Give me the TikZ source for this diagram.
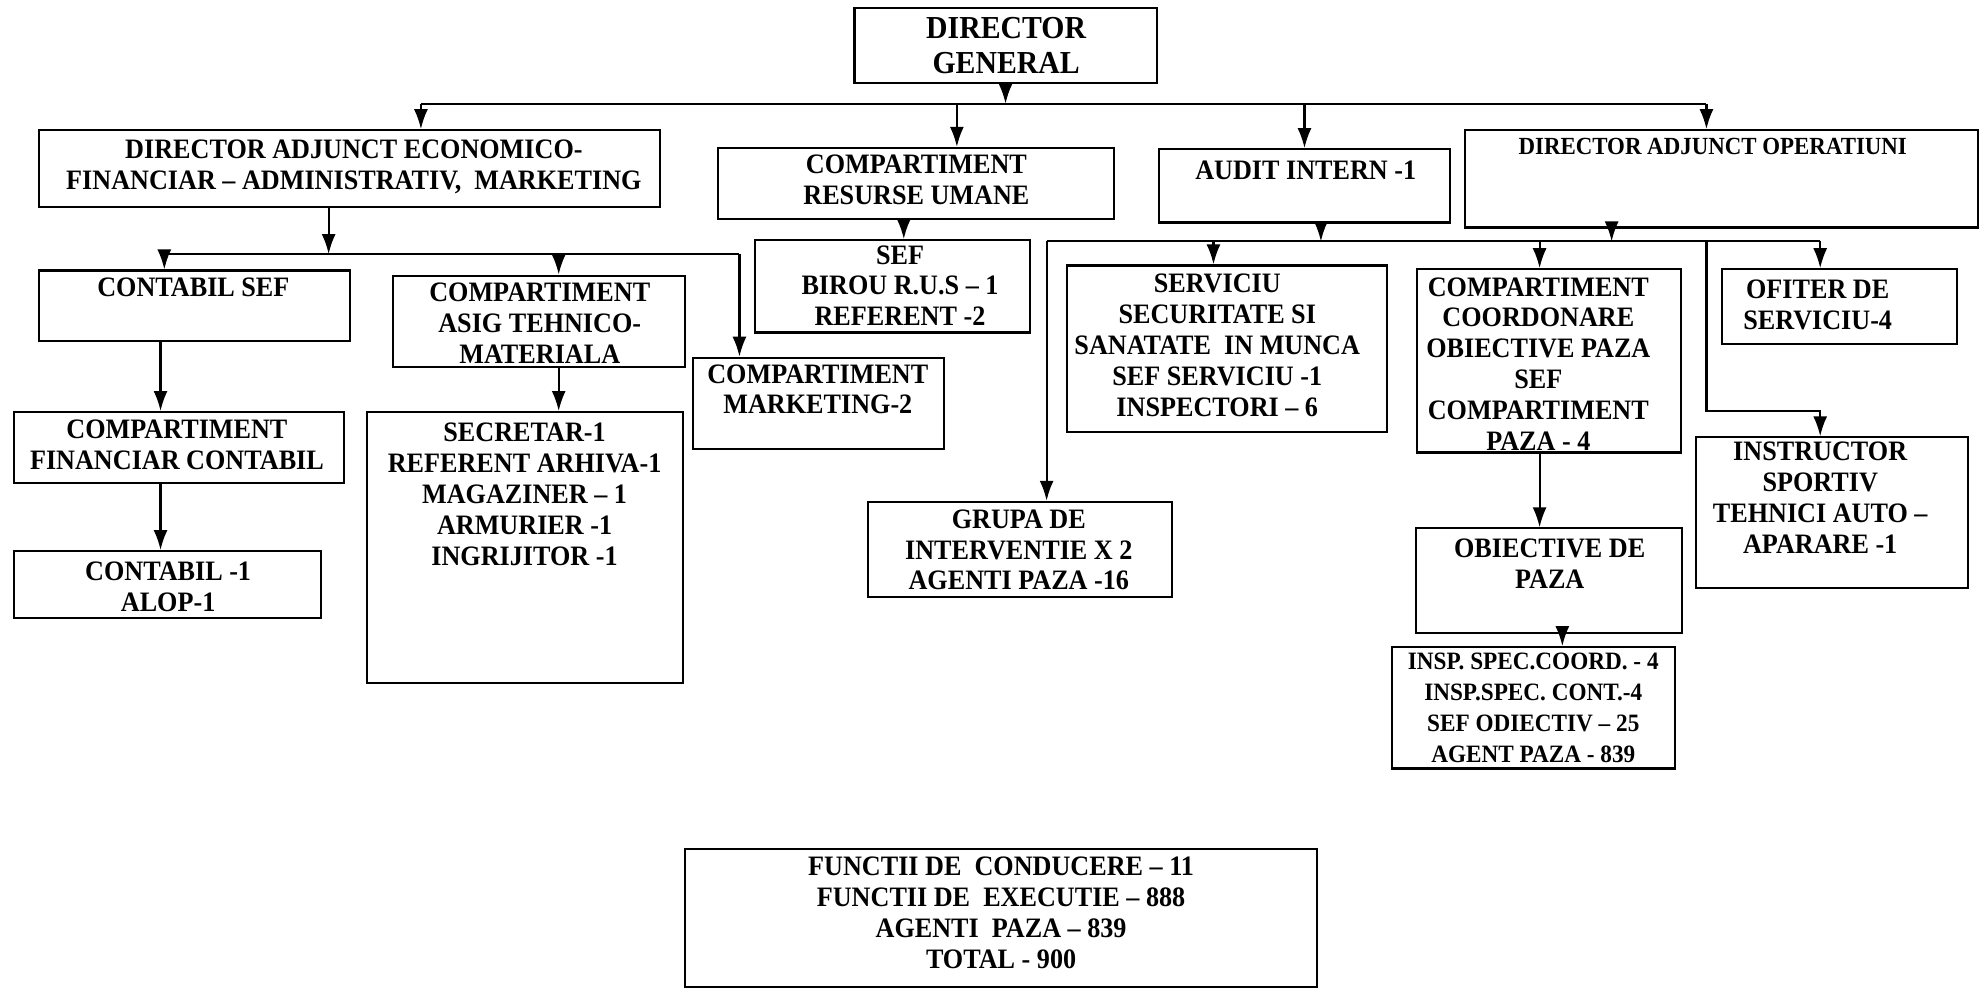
\documentclass[tikz,border=0pt]{standalone}
\usepackage{fontspec}
\setmainfont{Liberation Serif}[FakeStretch=0.93]
\usetikzlibrary{arrows.meta,fit}
\tikzset{
  box/.style={draw, line width=0.6pt, inner sep=0pt},
  txt/.style={align=center, inner sep=0pt, font=\bfseries\fontsize{8.0}{8.8}\selectfont},
  arr/.style={line width=0.6pt, -{Latex[length=2mm,width=1.4mm]}},
  bus/.style={line width=0.6pt},
}
\begin{document}
\begin{tikzpicture}[x=0.01264cm, y=-0.01264cm]
            \useasboundingbox (0,0) rectangle (1568,784);
            % boxes
            \node[box, fit={(676,6) (915,66)}] (0) {};
            \node[box, fit={(31,103) (522,164)}] (1) {};
            \node[box, fit={(568,117) (881,173)}] (2) {};
            \node[box, fit={(917,118) (1147,176)}] (3) {};
            \node[box, fit={(1159,103) (1565,180)}] (4) {};
            \node[box, fit={(31,214) (277,270)}] (5) {};
            \node[box, fit={(311,218) (542,290)}] (6) {};
            \node[box, fit={(548,283) (747,355)}] (7) {};
            \node[box, fit={(597,190) (815,263)}] (8) {};
            \node[box, fit={(11,326) (272,382)}] (9) {};
            \node[box, fit={(11,436) (254,489)}] (10) {};
            \node[box, fit={(290,326) (540,540)}] (11) {};
            \node[box, fit={(687,397) (927,472)}] (12) {};
            \node[box, fit={(844,210) (1097,342)}] (13) {};
            \node[box, fit={(1121,213) (1330,358)}] (14) {};
            \node[box, fit={(1362,213) (1548,272)}] (15) {};
            \node[box, fit={(1342,346) (1557,465)}] (16) {};
            \node[box, fit={(1120,418) (1331,501)}] (17) {};
            \node[box, fit={(1101,512) (1325,608)}] (18) {};
            \node[box, fit={(542,672) (1042,781)}] (19) {};
            % texts
            \node[txt, font=\bfseries\fontsize{9.1}{10.2}\selectfont] (t0) at (796,36) {DIRECTOR\\GENERAL};
            \node[txt] (t1) at (280,132) {DIRECTOR ADJUNCT ECONOMICO-\\FINANCIAR -- ADMINISTRATIV,~ MARKETING};
            \node[txt] (t2) at (725,142) {COMPARTIMENT\\RESURSE UMANE};
            \node[txt] (t3) at (1033,135) {AUDIT INTERN -1};
            \node[txt, font=\bfseries\fontsize{7.0}{8.2}\selectfont] (t4) at (1355,116) {DIRECTOR ADJUNCT OPERATIUNI};
            \node[txt] (t5) at (153,227) {CONTABIL SEF};
            \node[txt] (t6) at (427,256) {COMPARTIMENT\\ASIG TEHNICO-\\MATERIALA};
            \node[txt] (t7) at (647,308) {COMPARTIMENT\\MARKETING-2};
            \node[txt] (t8) at (712,226) {SEF\\BIROU R.U.S -- 1\\REFERENT -2};
            \node[txt] (t9) at (140,352) {COMPARTIMENT\\FINANCIAR CONTABIL};
            \node[txt] (t10) at (133,464) {CONTABIL -1\\ALOP-1};
            \node[txt] (t11) at (415,391) {SECRETAR-1\\REFERENT ARHIVA-1\\MAGAZINER -- 1\\ARMURIER -1\\INGRIJITOR -1};
            \node[txt] (t12) at (806,435) {GRUPA DE\\INTERVENTIE X 2\\AGENTI PAZA -16};
            \node[txt] (t13) at (963,273) {SERVICIU\\SECURITATE SI\\SANATATE~ IN MUNCA\\SEF SERVICIU -1\\INSPECTORI -- 6};
            \node[txt] (t14) at (1217,288) {COMPARTIMENT\\COORDONARE\\OBIECTIVE PAZA\\SEF\\COMPARTIMENT\\PAZA - 4};
            \node[txt] (t15) at (1438,241) {OFITER DE\\SERVICIU-4};
            \node[txt] (t16) at (1440,394) {INSTRUCTOR\\SPORTIV\\TEHNICI AUTO --\\APARARE -1};
            \node[txt] (t17) at (1226,446) {OBIECTIVE DE\\PAZA};
            \node[txt, font=\bfseries\fontsize{7.1}{8.8}\selectfont] (t18) at (1213,560) {INSP. SPEC.COORD. - 4\\INSP.SPEC. CONT.-4\\SEF ODIECTIV -- 25\\AGENT PAZA - 839};
            \node[txt] (t19) at (792,722) {FUNCTII DE~ CONDUCERE -- 11\\FUNCTII DE~ EXECUTIE -- 888\\AGENTI~ PAZA -- 839\\TOTAL - 900};
            % junctions
            \coordinate (40) at (333,82);
            \coordinate (41) at (1350,82);
            \coordinate (42) at (757,82);
            \coordinate (43) at (130,201);
            \coordinate (44) at (585,201);
            \coordinate (45) at (260,201);
            \coordinate (46) at (442,201);
            \coordinate (47) at (715,180);
            \coordinate (48) at (127,300);
            \coordinate (49) at (828,191);
            \coordinate (50) at (1440,191);
            \coordinate (51) at (1045,191);
            \coordinate (52) at (1275,191);
            \coordinate (53) at (960,191);
            \coordinate (54) at (1218,191);
            \coordinate (55) at (1350,191);
            \coordinate (56) at (1440,325);
            \coordinate (57) at (1236,500);
            % director general
            \draw[bus] (40) to (41);
            \draw[arr] (0.south) to (0.south |- 40);
            \draw[arr] (40) to (40 |- 1.north);
            \draw[arr] (42) to (42 |- 2.north);
            \draw[arr] (3.north |- 40) to (3.north);
            \draw[arr] (41) to (41 |- 4.north);
            % economic
            \draw[bus] (43) to (45) to (44);
            \draw[arr] (45 |- 1.south) to (45);
            \draw[arr] (43) to (43 |- 5.north);
            \draw[arr] (46) to (46 |- 6.north);
            \draw[arr] (44) to (44 |- 7.north);
            \draw[arr] (47 |- 2.south) to (47 |- 8.north);
            \draw[arr] (48 |- 5.south) to (48 |- 9.north);
            \draw[arr] (48 |- 9.south) to (48 |- 10.north);
            \draw[arr] (46 |- 6.south) to (46 |- 11.north);
            % operatiuni
            \draw[bus] (49) to (50);
            \draw[arr] (51 |- 3.south) to (51);
            \draw[arr] (52 |- 4.south) to (52);
            \draw[arr] (49) to (49 |- 12.north);
            \draw[arr] (53) to (53 |- 13.north);
            \draw[arr] (54) to (54 |- 14.north);
            \draw[arr] (50) to (50 |- 15.north);
            \draw[arr] (55) |- (56) to (56 |- 16.north);
            \draw[arr] (54 |- 14.south) to (54 |- 17.north);
            \draw[arr] (57 |- 17.south) to (57 |- 18.north);
\end{tikzpicture}
\end{document}
